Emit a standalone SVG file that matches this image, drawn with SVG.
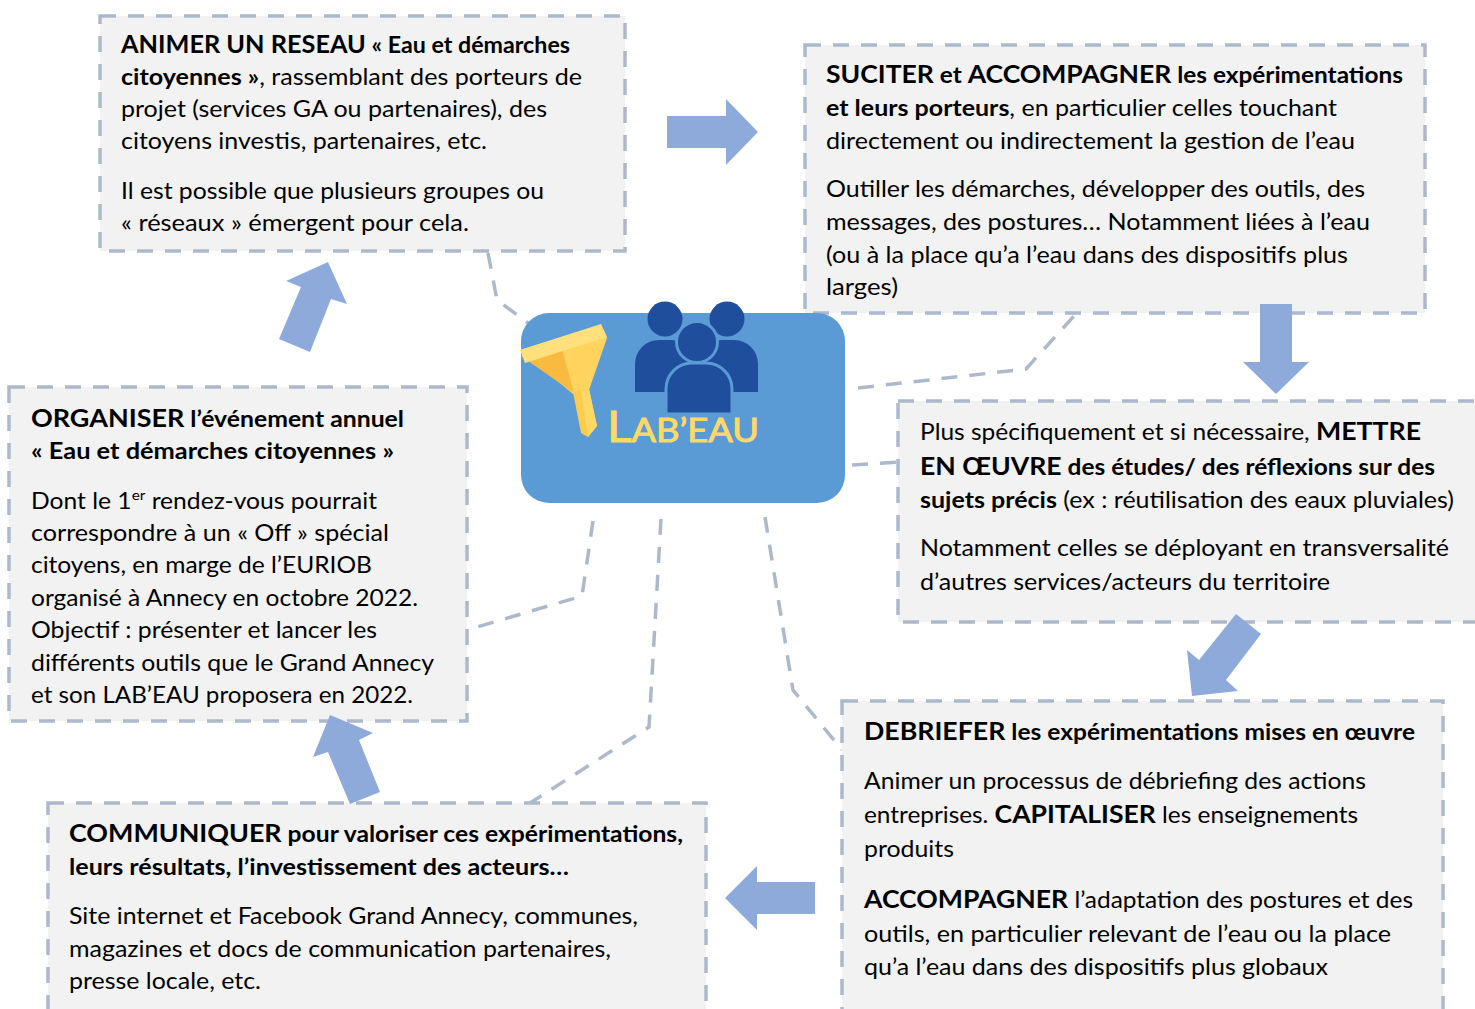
<svg xmlns="http://www.w3.org/2000/svg" width="1475" height="1009" viewBox="0 0 1475 1009">
<defs>
<style>
.box{fill:#f2f2f2;stroke:#adb9ca;stroke-width:3.5;stroke-dasharray:16 12}
.con{fill:none;stroke:#adb9ca;stroke-width:3.5;stroke-dasharray:16 12}
.arr{fill:#8eaadb}
text{font-family:Lato,"Open Sans","DejaVu Sans",sans-serif;font-size:22.5px;fill:#000}
.b{font-weight:bold}
.B{font-weight:bold;font-size:24.5px}
.sup{font-size:14px}
.ppl{fill:#1f4e9c}
.pplf{fill:#1f4e9c;stroke:#5b9bd5;stroke-width:3}
.logo{fill:#ffd966;stroke:#ffd966;stroke-width:0.9}
</style>
</defs>
<rect width="1475" height="1009" fill="#ffffff"/>

<g id="connectors">
<polyline class="con" points="488,253 497,300 528,323"/>
<polyline class="con" points="858,388 1026,369 1074,316"/>
<polyline class="con" points="852,465 898,462"/>
<polyline class="con" points="765,517 793,690 842,750"/>
<polyline class="con" points="661,519 649,727 530,803"/>
<polyline class="con" points="593,521 582,596 467,630"/>
</g>

<g id="node-animer">
<rect class="box" x="100" y="16" width="525" height="235"/>
<text x="121" y="53" textLength="449" lengthAdjust="spacingAndGlyphs"><tspan class="B">ANIMER UN RESEAU</tspan><tspan class="b"> « Eau et démarches</tspan></text>
<text x="121" y="85" textLength="461" lengthAdjust="spacingAndGlyphs"><tspan class="b">citoyennes »</tspan>, rassemblant des porteurs de</text>
<text x="121" y="117" textLength="426" lengthAdjust="spacingAndGlyphs">projet (services GA ou partenaires), des</text>
<text x="121" y="149" textLength="366" lengthAdjust="spacingAndGlyphs">citoyens investis, partenaires, etc.</text>
<text x="121" y="199" textLength="423" lengthAdjust="spacingAndGlyphs">Il est possible que plusieurs groupes ou</text>
<text x="121" y="231" textLength="348" lengthAdjust="spacingAndGlyphs">« réseaux » émergent pour cela.</text>
</g>

<g id="node-suciter">
<rect class="box" x="805" y="45" width="620" height="268"/>
<text x="826" y="83" textLength="577" lengthAdjust="spacingAndGlyphs"><tspan class="B">SUCITER</tspan><tspan class="b"> et </tspan><tspan class="B">ACCOMPAGNER</tspan><tspan class="b"> les expérimentations</tspan></text>
<text x="826" y="116" textLength="511" lengthAdjust="spacingAndGlyphs"><tspan class="b">et leurs porteurs</tspan>, en particulier celles touchant</text>
<text x="826" y="149" textLength="529" lengthAdjust="spacingAndGlyphs">directement ou indirectement la gestion de l’eau</text>
<text x="826" y="197" textLength="539" lengthAdjust="spacingAndGlyphs">Outiller les démarches, développer des outils, des</text>
<text x="826" y="230" textLength="544" lengthAdjust="spacingAndGlyphs">messages, des postures… Notamment liées à l’eau</text>
<text x="826" y="263" textLength="522" lengthAdjust="spacingAndGlyphs">(ou à la place qu’a l’eau dans des dispositifs plus</text>
<text x="826" y="295" textLength="72" lengthAdjust="spacingAndGlyphs">larges)</text>
</g>

<g id="node-mettre">
<rect class="box" x="898" y="401" width="600" height="221"/>
<text x="920" y="440" textLength="501" lengthAdjust="spacingAndGlyphs">Plus spécifiquement et si nécessaire, <tspan class="B">METTRE</tspan></text>
<text x="920" y="475" textLength="515" lengthAdjust="spacingAndGlyphs"><tspan class="B">EN ŒUVRE</tspan><tspan class="b"> des études/ des réflexions sur des</tspan></text>
<text x="920" y="508" textLength="534" lengthAdjust="spacingAndGlyphs"><tspan class="b">sujets précis</tspan> (ex : réutilisation des eaux pluviales)</text>
<text x="920" y="556" textLength="529" lengthAdjust="spacingAndGlyphs">Notamment celles se déployant en transversalité</text>
<text x="920" y="590" textLength="410" lengthAdjust="spacingAndGlyphs">d’autres services/acteurs du territoire</text>
</g>

<g id="node-debriefer">
<rect class="box" x="842" y="701" width="601" height="330"/>
<text x="864" y="740" textLength="551" lengthAdjust="spacingAndGlyphs"><tspan class="B">DEBRIEFER</tspan><tspan class="b"> les expérimentations mises en œuvre</tspan></text>
<text x="864" y="789" textLength="502" lengthAdjust="spacingAndGlyphs">Animer un processus de débriefing des actions</text>
<text x="864" y="823" textLength="494" lengthAdjust="spacingAndGlyphs">entreprises. <tspan class="B">CAPITALISER</tspan> les enseignements</text>
<text x="864" y="857" textLength="90" lengthAdjust="spacingAndGlyphs">produits</text>
<text x="864" y="908" textLength="549" lengthAdjust="spacingAndGlyphs"><tspan class="B">ACCOMPAGNER</tspan> l’adaptation des postures et des</text>
<text x="864" y="942" textLength="527" lengthAdjust="spacingAndGlyphs">outils, en particulier relevant de l’eau ou la place</text>
<text x="864" y="975" textLength="464" lengthAdjust="spacingAndGlyphs">qu’a l’eau dans des dispositifs plus globaux</text>
</g>

<g id="node-communiquer">
<rect class="box" x="48" y="803" width="658" height="230"/>
<text x="69" y="842" textLength="614" lengthAdjust="spacingAndGlyphs"><tspan class="B">COMMUNIQUER</tspan><tspan class="b"> pour valoriser ces expérimentations,</tspan></text>
<text x="69" y="875" textLength="500" lengthAdjust="spacingAndGlyphs" class="b">leurs résultats, l’investissement des acteurs…</text>
<text x="69" y="924" textLength="569" lengthAdjust="spacingAndGlyphs">Site internet et Facebook Grand Annecy, communes,</text>
<text x="69" y="957" textLength="542" lengthAdjust="spacingAndGlyphs">magazines et docs de communication partenaires,</text>
<text x="69" y="989" textLength="192" lengthAdjust="spacingAndGlyphs">presse locale, etc.</text>
</g>

<g id="node-organiser">
<rect class="box" x="9" y="387" width="458" height="334"/>
<text x="31" y="427" textLength="373" lengthAdjust="spacingAndGlyphs"><tspan class="B">ORGANISER</tspan><tspan class="b"> l’événement annuel</tspan></text>
<text x="31" y="459" textLength="363" lengthAdjust="spacingAndGlyphs" class="b">« Eau et démarches citoyennes »</text>
<text x="31" y="509" textLength="346" lengthAdjust="spacingAndGlyphs">Dont le 1<tspan class="sup" dy="-9">er</tspan><tspan dy="9"> rendez-vous pourrait</tspan></text>
<text x="31" y="541" textLength="358" lengthAdjust="spacingAndGlyphs">correspondre à un « Off » spécial</text>
<text x="31" y="573" textLength="341" lengthAdjust="spacingAndGlyphs">citoyens, en marge de l’EURIOB</text>
<text x="31" y="606" textLength="387" lengthAdjust="spacingAndGlyphs">organisé à Annecy en octobre 2022.</text>
<text x="31" y="638" textLength="346" lengthAdjust="spacingAndGlyphs">Objectif : présenter et lancer les</text>
<text x="31" y="671" textLength="403" lengthAdjust="spacingAndGlyphs">différents outils que le Grand Annecy</text>
<text x="31" y="703" textLength="382" lengthAdjust="spacingAndGlyphs">et son LAB’EAU proposera en 2022.</text>
</g>

<g id="arrows">
<polygon class="arr" points="667,116 726,116 726,99 758,132 726,165 726,148 667,148"/>
<polygon class="arr" points="1260,304 1292,304 1292,362 1309,362 1276,394 1243,362 1260,362"/>
<polygon class="arr" points="1236,614 1261,634 1226,680 1238,691 1192,696 1187,650 1199,660"/>
<polygon class="arr" points="815,882 757,882 757,866 725,898 757,930 757,914 815,914"/>
<polygon class="arr" points="350,804 380,792 359,740 373,733 330,715 313,757 328,752"/>
<polygon class="arr" points="279,339 301,287 286,281 328,262 347,304 331,299 310,352"/>
</g>

<g id="node-labeau">
<rect x="521" y="313" width="324" height="190" rx="28" fill="#5b9bd5"/>
<g id="funnel">
<polygon points="520,350 601,325 607,338 589,390 573,394" fill="#ffd45e"/>
<polygon points="521,356 562,348 574,393" fill="#f8bb3f"/>
<polygon points="520,350 601,324 607,337 525,363" fill="#ffe07d"/>
<polygon points="573,392 589,389 597,426 588,437 581,433" fill="#fccc4d"/>
<polygon points="581,391 589,389 597,426 588,437" fill="#ffd966"/>
</g>
<g id="people">
<circle class="ppl" cx="665" cy="319" r="17.5"/>
<circle class="ppl" cx="727" cy="319" r="17.5"/>
<path class="ppl" d="M635,392 V364 A24,24 0 0 1 659,340 H671 A24,24 0 0 1 695,364 V392 Z"/>
<path class="ppl" d="M698,392 V364 A24,24 0 0 1 722,340 H734 A24,24 0 0 1 758,364 V392 Z"/>
<path class="pplf" d="M666,414 V389 A26,26 0 0 1 692,363 H706 A26,26 0 0 1 732,389 V414 Z"/>
<circle class="pplf" cx="697" cy="342" r="20.5"/>
</g>
<text class="logo" x="607" y="442" textLength="152" lengthAdjust="spacingAndGlyphs"><tspan font-size="42">L</tspan><tspan font-size="32">AB’EAU</tspan></text>
</g>
</svg>
